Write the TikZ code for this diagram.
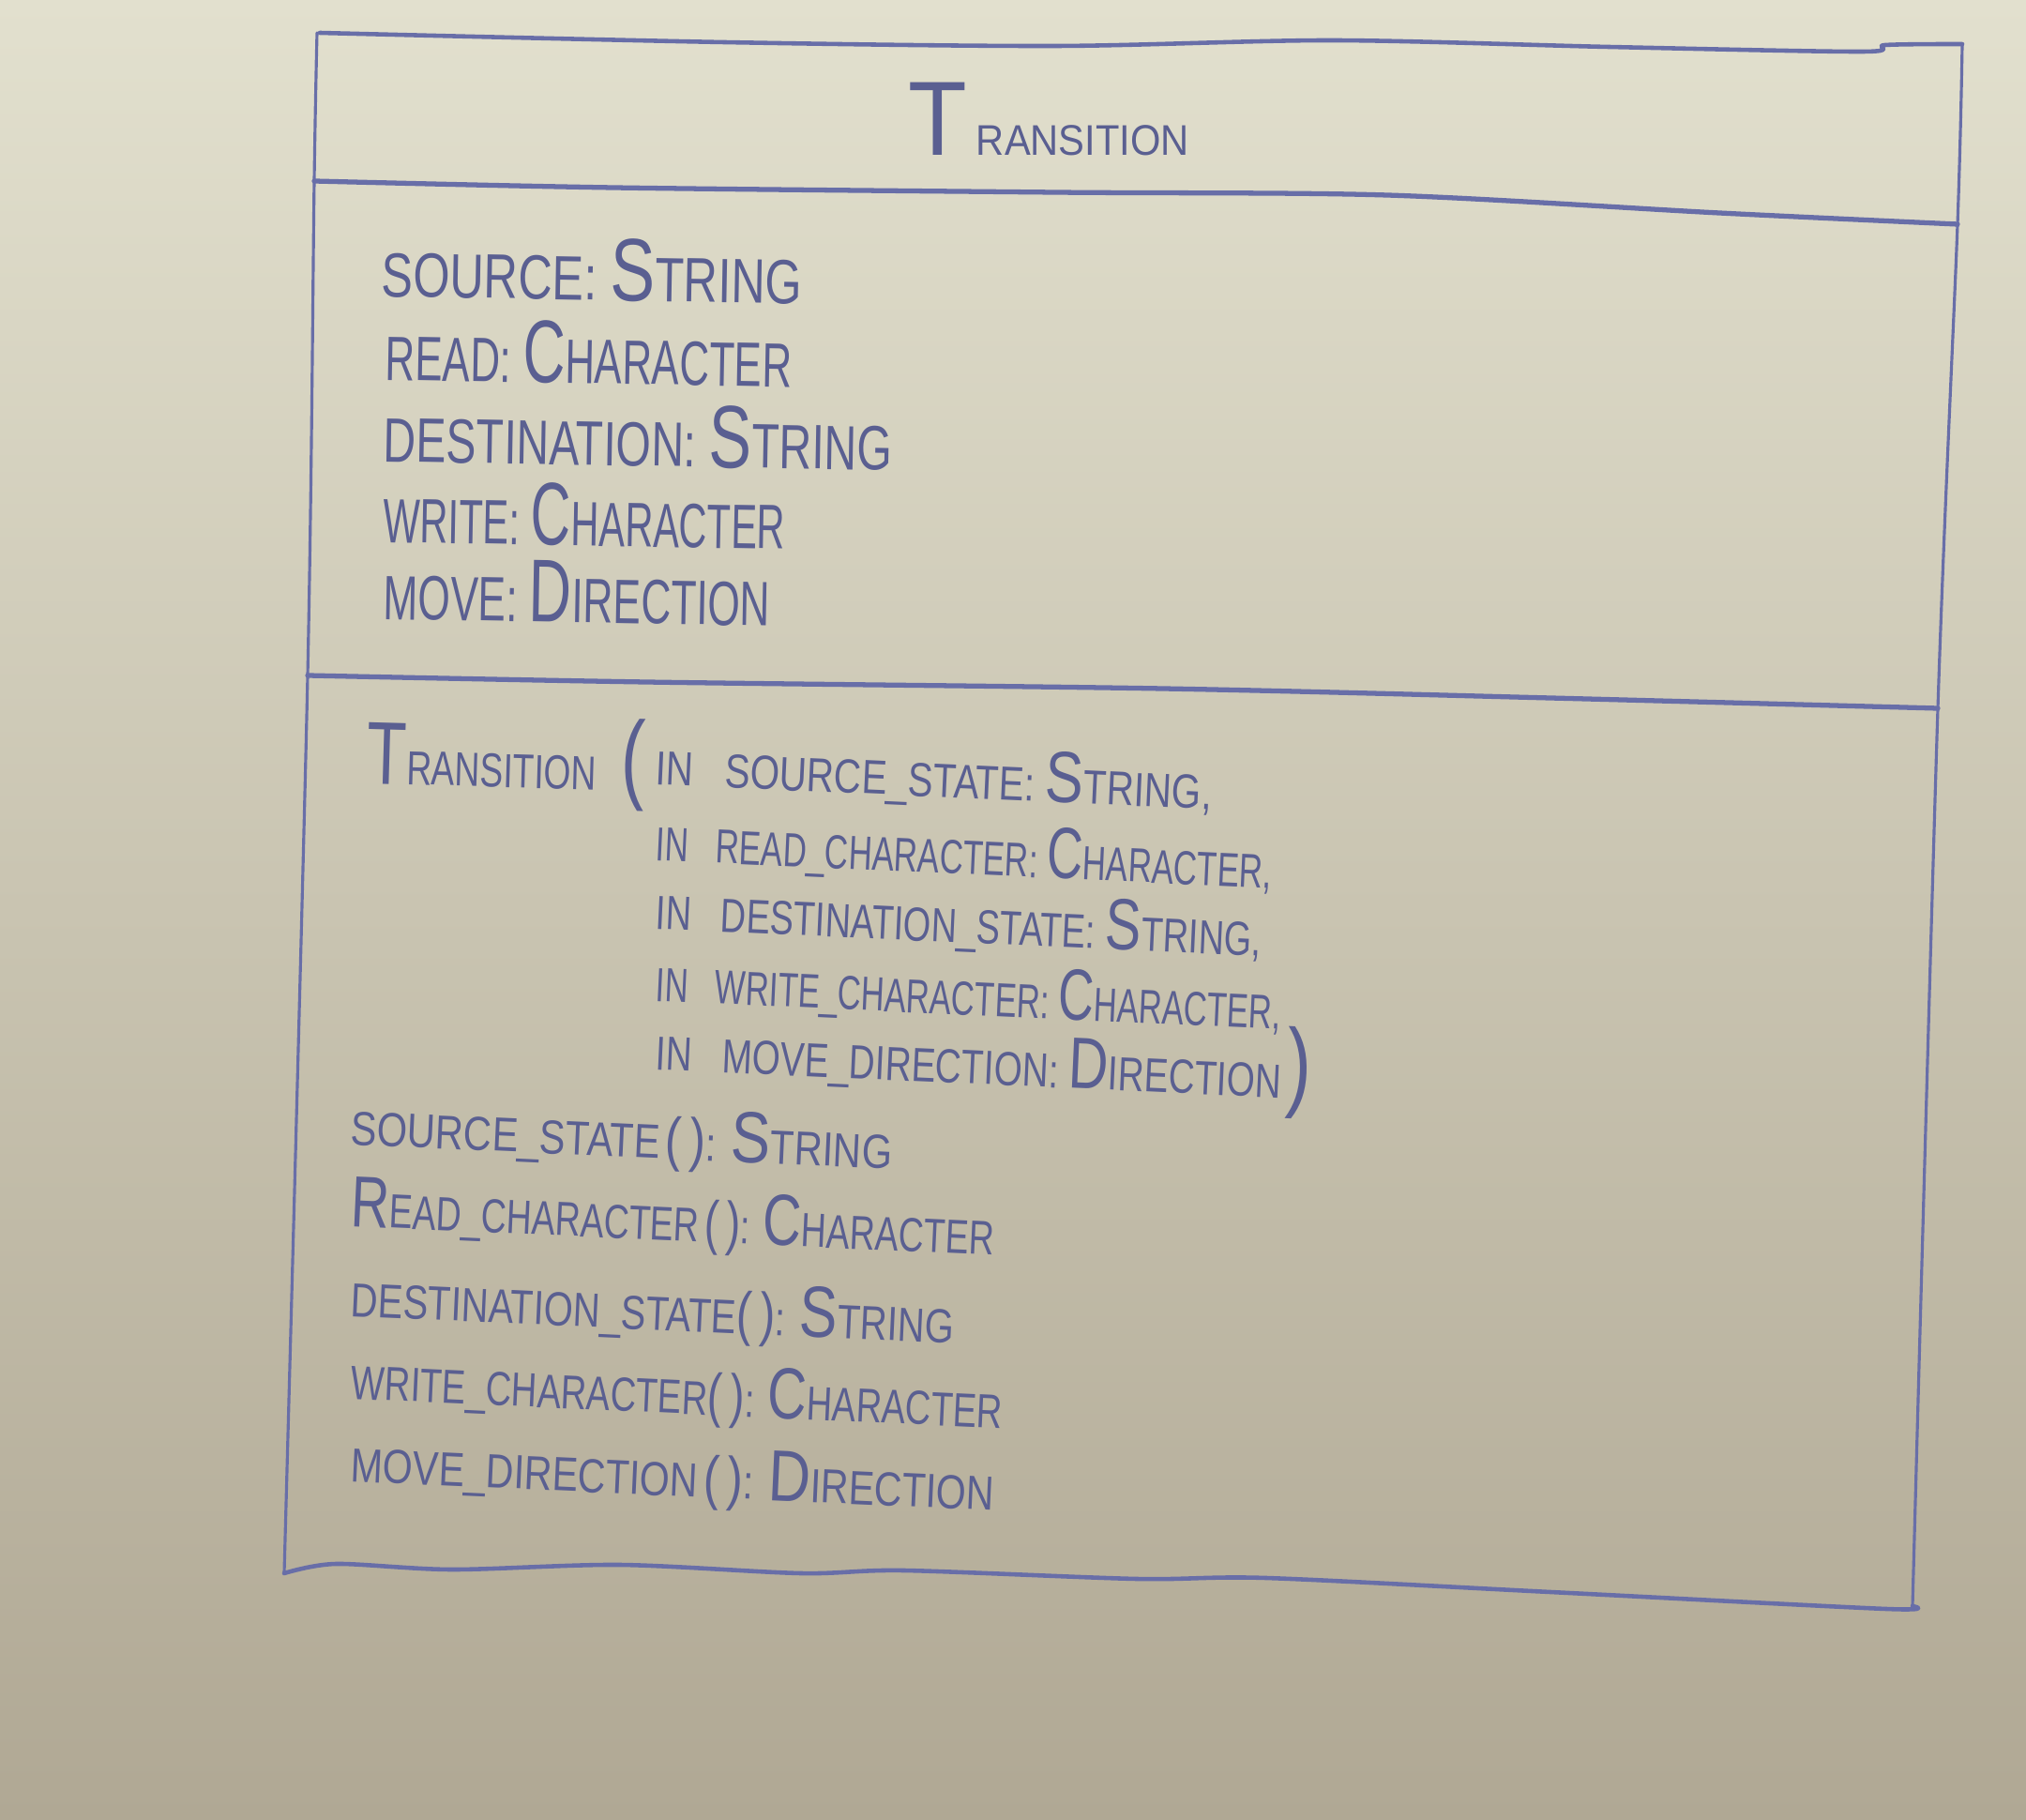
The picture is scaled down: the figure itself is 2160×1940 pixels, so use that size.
\documentclass[tikz,border=0pt]{standalone}
\usepackage{fontspec}
\usepackage{graphicx}
\newfontfamily\hand{Liberation Sans}
\definecolor{ink}{RGB}{90,95,145}
\definecolor{lineink}{RGB}{104,110,168}
\definecolor{boardtop}{RGB}{226,224,206}
\definecolor{boardmid}{RGB}{212,208,188}
\definecolor{boardbot}{RGB}{176,168,148}
% attribute compartment sizes
\newcommand\hwBig[1]{{\fontsize{27}{27}\selectfont #1}}
\newcommand\hw[2]{\resizebox{#1}{\height}{\fontsize{19}{19}\selectfont\hand #2}}
% operation compartment sizes
\newcommand\opBig[1]{{\fontsize{22}{22}\selectfont #1}}
\newcommand\opPar[1]{{\fontsize{18}{18}\selectfont #1}}
\newcommand\ctPar[1]{{\fontsize{30}{30}\selectfont #1}}
\newcommand\op[2]{\resizebox{#1}{\height}{\fontsize{14.5}{14.5}\selectfont\hand #2}}
\begin{document}
\begin{tikzpicture}[x=0.01cm,y=-0.01cm,
  txt/.style={anchor=base west, inner sep=0pt, text=ink, rotate=-1},
  mtxt/.style={txt, rotate=-1.6},
  edge/.style={draw=lineink, line width=0.9pt, line cap=round, line join=round},
  divider/.style={edge, line width=1.5pt}]
\shade[top color=boardtop, middle color=boardmid, bottom color=boardbot] (0,0) rectangle (2160,1940);
\useasboundingbox (0,0) rectangle (2160,1940);
% box outline
\draw[edge, line width=1.3pt] plot[smooth] coordinates {(341,35) (772,45) (1126,49) (1420,43) (1715,50) (1986,55) (2010,48) (2092,47)};
\draw[edge] plot[smooth] coordinates {(2092,47) (2087,239) (2066,755) (2039,1712)};
\draw[edge] plot[smooth] coordinates {(338,35) (335,193) (328,720) (303,1677)};
\draw[edge, line width=1.3pt] plot[smooth] coordinates {(303,1677) (358,1667) (482,1673) (661,1668) (854,1677) (964,1674) (1212,1683) (1350,1682) (1653,1697) (2011,1715) (2039,1712)};
% dividers
\draw[divider] plot[smooth] coordinates {(335,193) (654,200) (1125,205) (1479,208) (1833,227) (2087,239)};
\draw[divider] plot[smooth] coordinates {(328,720) (689,727) (1240,734) (1653,744) (2066,755)};
% title
\node[txt, rotate=1] (title) at (968,166) {\resizebox{2.99cm}{\height}{\hand{\fontsize{32}{32}\selectfont T}\hspace{3pt}{\fontsize{13}{13}\selectfont RANSITION}}};
% attributes
\node[txt] (a1) at (406,316) {\hw{4.48cm}{SOURCE: \hwBig{S}TRING}};
\node[txt] (a2) at (410,405) {\hw{4.33cm}{READ: \hwBig{C}HARACTER}};
\node[txt] (a3) at (408,492) {\hw{5.42cm}{DESTINATION: \hwBig{S}TRING}};
\node[txt] (a4) at (408,578) {\hw{4.28cm}{WRITE: \hwBig{C}HARACTER}};
\node[txt] (a5) at (408,660) {\hw{4.12cm}{MOVE: \hwBig{D}IRECTION}};
% constructor
\node[mtxt, rotate=1] (c0) at (390,835) {\op{2.96cm}{\hwBig{T}RANSITION\hspace{10pt}\ctPar{(}}};
\node[mtxt] (c1) at (698,836) {\op{5.93cm}{IN\hspace{12pt}SOURCE\_STATE: \opBig{S}TRING,}};
\node[mtxt] (c2) at (698,917) {\op{6.57cm}{IN\hspace{12pt}READ\_CHARACTER: \opBig{C}HARACTER,}};
\node[mtxt] (c3) at (698,990) {\op{6.46cm}{IN\hspace{12pt}DESTINATION\_STATE: \opBig{S}TRING,}};
\node[mtxt] (c4) at (698,1067) {\op{6.67cm}{IN\hspace{12pt}WRITE\_CHARACTER: \opBig{C}HARACTER,}};
\node[mtxt] (c5) at (698,1140) {\op{6.99cm}{IN\hspace{12pt}MOVE\_DIRECTION: \opBig{D}IRECTION\hspace{2pt}\ctPar{)}}};
% operations
\node[mtxt] (m1) at (373,1220) {\op{5.77cm}{SOURCE\_STATE\hspace{2pt}\opPar{(\hspace{3pt})}: \opBig{S}TRING}};
\node[mtxt] (m2) at (373,1307) {\op{6.86cm}{\opBig{R}EAD\_CHARACTER\hspace{2pt}\opPar{(\hspace{3pt})}: \opBig{C}HARACTER}};
\node[mtxt] (m3) at (373,1403) {\op{6.43cm}{DESTINATION\_STATE\opPar{(\hspace{3pt})}: \opBig{S}TRING}};
\node[mtxt] (m4) at (373,1491) {\op{6.95cm}{WRITE\_CHARACTER\opPar{(\hspace{3pt})}: \opBig{C}HARACTER}};
\node[mtxt] (m5) at (373,1579) {\op{6.86cm}{MOVE\_DIRECTION\hspace{2pt}\opPar{(\hspace{3pt})}: \opBig{D}IRECTION}};
\end{tikzpicture}
\end{document}
